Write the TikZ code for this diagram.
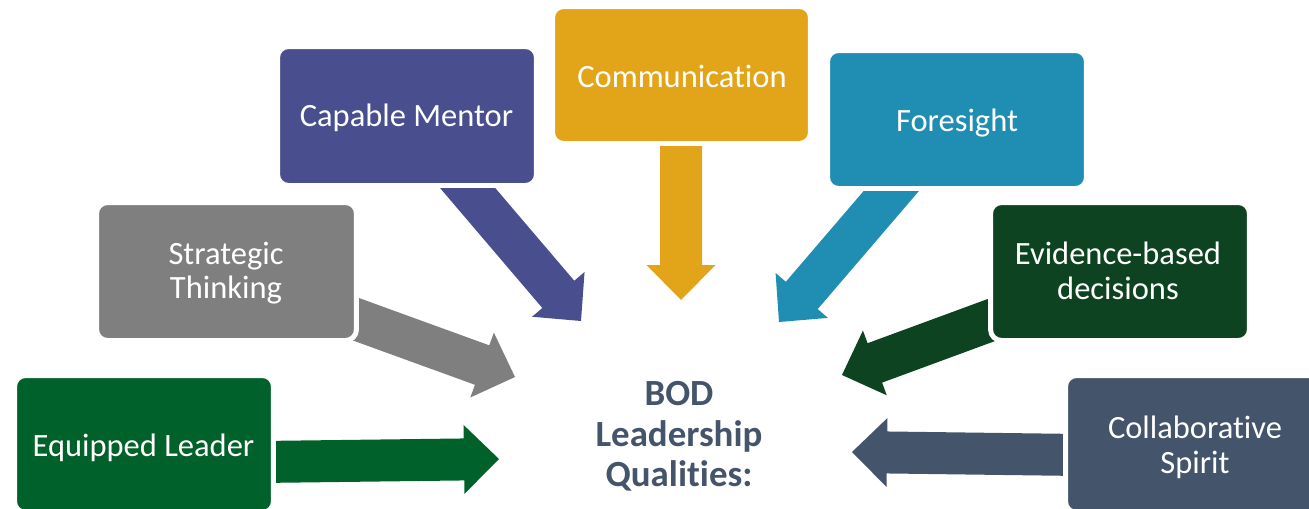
\documentclass[tikz,border=0pt]{standalone}
\usepackage{fontspec}
\setmainfont{Carlito}[RawFeature={-liga;-clig;-calt;-dlig}]
\usetikzlibrary{calc,backgrounds}
\definecolor{cEq}{HTML}{00622A}
\definecolor{cSt}{HTML}{7F7F7F}
\definecolor{cMe}{HTML}{494E8F}
\definecolor{cCo}{HTML}{E2A418}
\definecolor{cFo}{HTML}{208DB3}
\definecolor{cEv}{HTML}{0D4320}
\definecolor{cCl}{HTML}{44546A}
% block arrow from #1 (tail) to #2 (tip), filled with #3
\newcommand\barrow[3]{%
  \coordinate (hb) at ($(#2)!0.7cm!(#1)$);
  \fill[#3] ($(#1)!0.42cm!90:(#2)$) -- ($(hb)!0.42cm!-90:(#1)$) -- ($(hb)!0.69cm!-90:(#1)$)
     -- (#2) -- ($(hb)!0.69cm!90:(#1)$) -- ($(hb)!0.42cm!90:(#1)$) -- ($(#1)!0.42cm!-90:(#2)$) -- cycle;
}
\begin{document}
\begin{tikzpicture}[x=0.02cm,y=-0.02cm,
  box/.style={rounded corners=0.22cm, draw=white, line width=2.83pt, inner sep=0pt},
  boxtext/.style={text=white, font=\fontsize{18.5}{19.8}\selectfont, align=center, inner sep=0pt},
  ]
\useasboundingbox (0,0) rectangle (1309,508);
\clip (0,0) rectangle (1309,508);

% boxes
\node[box, fill=cEq, minimum width=5.18cm, minimum height=2.74cm] (b1) at (144,444) {};
\node[box, fill=cSt, minimum width=5.2cm,  minimum height=2.76cm] (b2) at (226.5,271.5) {};
\node[box, fill=cMe, minimum width=5.18cm, minimum height=2.78cm] (b3) at (407,116) {};
\node[box, fill=cCo, minimum width=5.16cm, minimum height=2.74cm] (b4) at (681.5,75) {};
\node[box, fill=cFo, minimum width=5.18cm, minimum height=2.76cm] (b5) at (957,119.5) {};
\node[box, fill=cEv, minimum width=5.18cm, minimum height=2.76cm] (b6) at (1120,271.5) {};
\node[box, fill=cCl, minimum width=5.18cm, minimum height=2.74cm] (b7) at (1195,444) {};

% texts
\node[boxtext, anchor=base] (t1) at (143.5,456) {Equipped Leader};
\node[boxtext] (t2) at (226,273) {Strategic\\Thinking};
\node[boxtext, anchor=base] (t3) at (406.5,126) {Capable Mentor};
\node[boxtext, anchor=base] (t4) at (682,87) {Communication};
\node[boxtext, anchor=base] (t5) at (957,131) {Foresight};
\node[boxtext] (t6) at (1118,271) {Evidence-based\\decisions};
\node[boxtext] (t7) at (1195,447) {Collaborative\\Spirit};

\node[text=cCl, font=\bfseries\fontsize{21}{23}\selectfont, align=center, inner sep=0pt] (c) at (679,436.5) {BOD\\Leadership\\Qualities:};

% arrow ends
\coordinate (s1) at (260,462);  \coordinate (e1) at (499,459);
\coordinate (s2) at (336,312);  \coordinate (e2) at (515,377);
\coordinate (s3) at (454,172);  \coordinate (e3) at (581,321);
\coordinate (s4) at (681,130);  \coordinate (e4) at (681,300);
\coordinate (s5) at (905,175);  \coordinate (e5) at (779,322);
\coordinate (s6) at (1005,315); \coordinate (e6) at (842,375);
\coordinate (s7) at (1080,455); \coordinate (e7) at (852,452);

\begin{pgfonlayer}{background}
\barrow{s1}{e1}{cEq}
\barrow{s2}{e2}{cSt}
\barrow{s3}{e3}{cMe}
\barrow{s4}{e4}{cCo}
\barrow{s5}{e5}{cFo}
\barrow{s6}{e6}{cEv}
\barrow{s7}{e7}{cCl}
\end{pgfonlayer}
\end{tikzpicture}
\end{document}
